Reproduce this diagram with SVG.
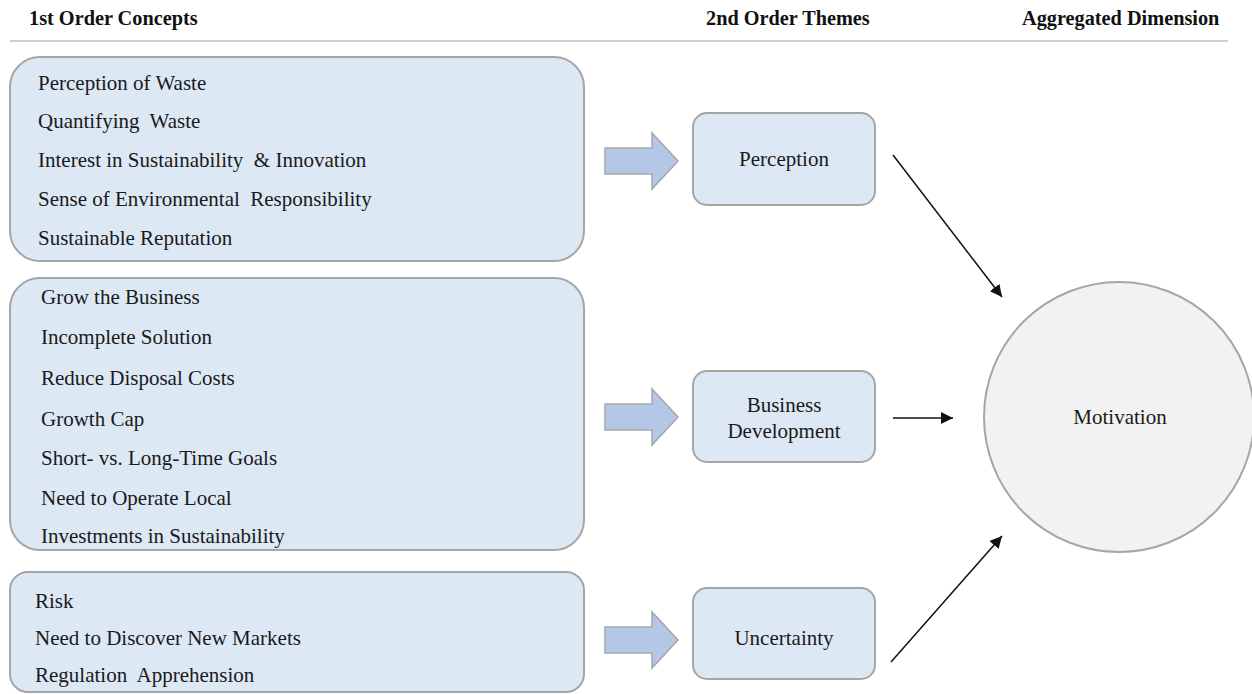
<svg xmlns="http://www.w3.org/2000/svg" width="1252" height="694" viewBox="0 0 1252 694">
  <style>
    .hdr { font-family: "Liberation Serif", "DejaVu Serif", serif; font-size: 20.3px; font-weight: bold; fill: #111; }
    .txt { font-family: "Liberation Serif", "DejaVu Serif", serif; font-size: 21px; font-weight: normal; font-style: normal; fill: #1a1a1a; }
    .concept { fill: #dde8f5; stroke: #a6a6a6; stroke-width: 2; }
    .theme { fill: #dde8f5; stroke: #a6a6a6; stroke-width: 2; }
    .block { fill: #b4c7e7; stroke: #a6a6a6; stroke-width: 1.5; }
    .link { stroke: #111; stroke-width: 1.5; fill: none; marker-end: url(#head); }
  </style>
  <defs>
    <marker id="head" viewBox="0 0 10 10" refX="10" refY="5" markerWidth="12" markerHeight="12" markerUnits="userSpaceOnUse" orient="auto">
      <path d="M0,0 L10,5 L0,10 z" fill="#111"/>
    </marker>
    <path id="blockArrow" d="M0,-13 L47,-13 L47,-28 L73,0 L47,28 L47,13 L0,13 z"/>
  </defs>

  <rect width="1252" height="694" fill="#ffffff"/>

  <!-- column headings -->
  <g id="headings">
    <text class="hdr" x="29" y="25">1st Order Concepts</text>
    <text class="hdr" x="706" y="25">2nd Order Themes</text>
    <text class="hdr" x="1022" y="25">Aggregated Dimension</text>
    <line x1="10" y1="41" x2="1228" y2="41" stroke="#bfbfbf" stroke-width="1.5"/>
  </g>

  <!-- first order concept groups -->
  <g id="concepts-perception">
    <rect class="concept" x="10" y="57" width="574" height="204" rx="30" ry="30"/>
    <text class="txt" x="38" y="90">Perception of Waste</text>
    <text class="txt" x="38" y="128">Quantifying&#160; Waste</text>
    <text class="txt" x="38" y="167">Interest in Sustainability&#160; &amp; Innovation</text>
    <text class="txt" x="38" y="206">Sense of Environmental&#160; Responsibility</text>
    <text class="txt" x="38" y="245">Sustainable Reputation</text>
  </g>

  <g id="concepts-business">
    <rect class="concept" x="10" y="278" width="574" height="272" rx="30" ry="30"/>
    <text class="txt" x="41" y="304">Grow the Business</text>
    <text class="txt" x="41" y="344">Incomplete Solution</text>
    <text class="txt" x="41" y="385">Reduce Disposal Costs</text>
    <text class="txt" x="41" y="426">Growth Cap</text>
    <text class="txt" x="41" y="465">Short- vs. Long-Time Goals</text>
    <text class="txt" x="41" y="505">Need to Operate Local</text>
    <text class="txt" x="41" y="543">Investments in Sustainability</text>
  </g>

  <g id="concepts-uncertainty">
    <rect class="concept" x="10" y="572" width="574" height="120" rx="18" ry="18"/>
    <text class="txt" x="35" y="608">Risk</text>
    <text class="txt" x="35" y="645">Need to Discover New Markets</text>
    <text class="txt" x="35" y="682">Regulation&#160; Apprehension</text>
  </g>

  <!-- block arrows from concepts to themes -->
  <g id="block-arrows">
    <use href="#blockArrow" class="block" x="605" y="161"/>
    <use href="#blockArrow" class="block" x="605" y="417"/>
    <use href="#blockArrow" class="block" x="605" y="640"/>
  </g>

  <!-- second order themes -->
  <g id="theme-perception">
    <rect class="theme" x="693" y="113" width="182" height="92" rx="14" ry="14"/>
    <text class="txt" x="784" y="166" text-anchor="middle">Perception</text>
  </g>

  <g id="theme-business">
    <rect class="theme" x="693" y="371" width="182" height="91" rx="14" ry="14"/>
    <text class="txt" x="784" y="412" text-anchor="middle">Business</text>
    <text class="txt" x="784" y="438" text-anchor="middle">Development</text>
  </g>

  <g id="theme-uncertainty">
    <rect class="theme" x="693" y="588" width="182" height="91" rx="14" ry="14"/>
    <text class="txt" x="784" y="645" text-anchor="middle">Uncertainty</text>
  </g>

  <!-- aggregated dimension -->
  <g id="dimension-motivation">
    <circle cx="1119" cy="417" r="135" fill="#f2f2f2" stroke="#a6a6a6" stroke-width="2"/>
    <text class="txt" x="1120" y="424" text-anchor="middle">Motivation</text>
  </g>

  <!-- connectors to the aggregated dimension -->
  <g id="connectors">
    <line class="link" x1="893" y1="155" x2="1002" y2="297"/>
    <line class="link" x1="893" y1="418" x2="953" y2="418"/>
    <line class="link" x1="891" y1="662" x2="1002" y2="536"/>
  </g>
</svg>
